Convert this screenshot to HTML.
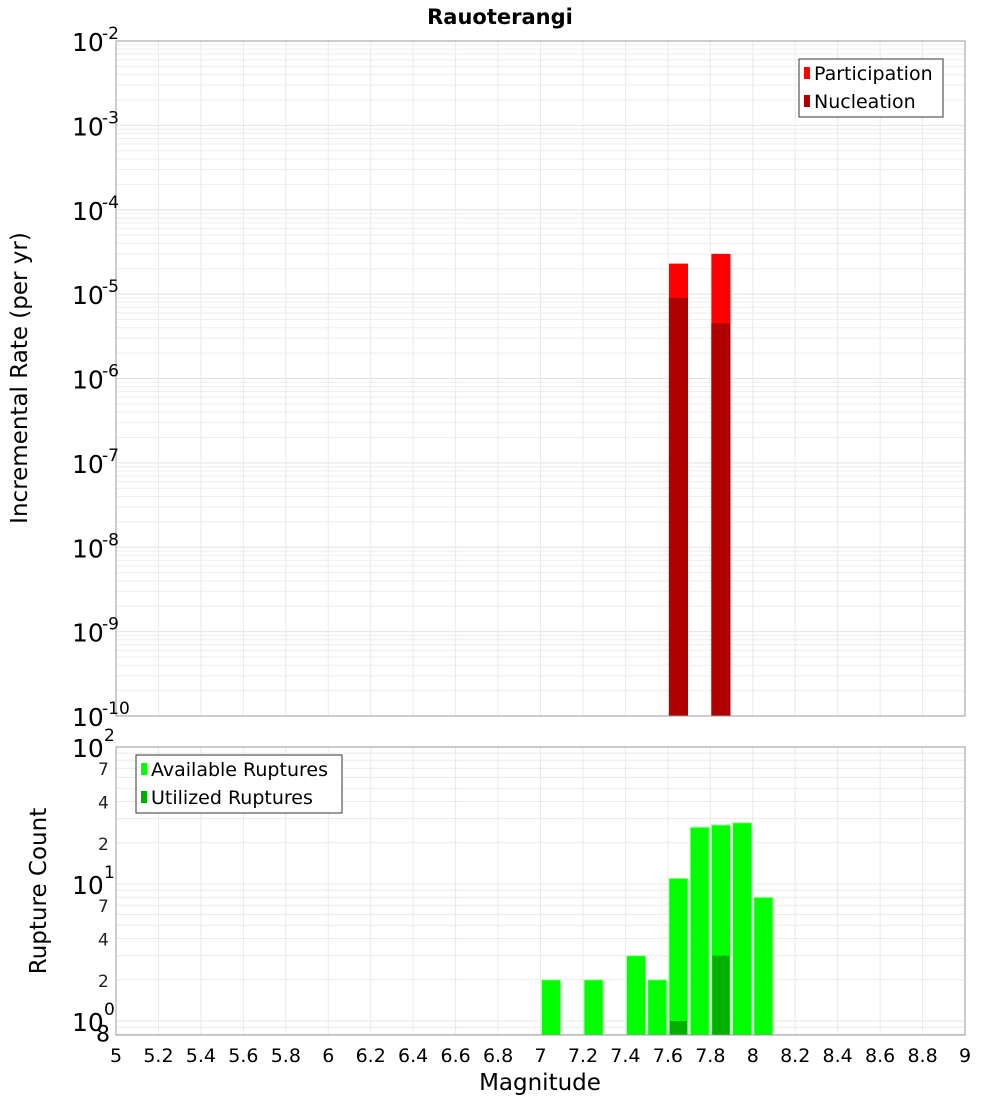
<!DOCTYPE html>
<html><head><meta charset="utf-8"><style>
body{margin:0;background:#fff;font-family:"Liberation Sans","DejaVu Sans",sans-serif}
svg text{font-family:"DejaVu Sans","Liberation Sans",sans-serif}
</style></head><body>
<svg id="c" width="1000" height="1100" xmlns="http://www.w3.org/2000/svg">
<text x="500" y="24" text-anchor="middle" font-size="21" font-weight="bold">Rauoterangi</text>
<g id="topPlot"></g>
<g id="botPlot"></g>
<text transform="translate(27,378) rotate(-90)" text-anchor="middle" font-size="23">Incremental Rate (per yr)</text>
<text transform="translate(46,891) rotate(-90)" text-anchor="middle" font-size="23">Rupture Count</text>
<text x="540" y="1090" text-anchor="middle" font-size="23">Magnitude</text>
</svg>
<script>
const rateMags=[7.65,7.85];
const participation=[2.3e-5,3.0e-5];
const nucleation=[9e-6,4.5e-6];
const countMags=[7.05,7.25,7.45,7.55,7.65,7.75,7.85,7.95,8.05];
const available=[2,2,3,2,11,26,27,28,8];
const utilizedMags=[7.65,7.85];
const utilized=[1,3];
const xTicks=[5,5.2,5.4,5.6,5.8,6,6.2,6.4,6.6,6.8,7,7.2,7.4,7.6,7.8,8,8.2,8.4,8.6,8.8,9];

const NS="http://www.w3.org/2000/svg";
const svg=document.getElementById('c');
function mk(tag,attrs,parent){const e=document.createElementNS(NS,tag);for(const k in attrs)e.setAttribute(k,attrs[k]);(parent||svg).appendChild(e);return e;}
const X0=116,X1=965;
const xs=m=>X0+(m-5)/4*(X1-X0);
const T0=41,T1=716;
const yt=v=>T1-(Math.log10(v)+10)/8*(T1-T0);
const B0=747,B1=1035,BDEC=137,B1e0=1021;
const yb=v=>B1e0-Math.log10(v)*BDEC;
const topG=document.getElementById('topPlot'),botG=document.getElementById('botPlot');

for(let d=-10;d<-2;d++)for(let k=1;k<10;k++){const y=yt(k*Math.pow(10,d));const l=mk('line',{x1:X0,x2:X1,y1:y,y2:y,stroke:k==1?'#e2e2e2':'#eeeeee','stroke-width':1},topG);}
[0.8,0.9,1,2,3,4,5,6,7,8,9,10,20,30,40,50,60,70,80,90].forEach(v=>{const y=yb(v);const l=mk('line',{x1:X0,x2:X1,y1:y,y2:y,stroke:'#eaeaea','stroke-width':1},botG);});
xTicks.forEach(t=>{const x=xs(t);
 let l=mk('line',{x1:x,x2:x,y1:T0,y2:T1,stroke:'#eaeaea'},topG);
 l=mk('line',{x1:x,x2:x,y1:B0,y2:B1,stroke:'#eaeaea'},botG);
 const tx=mk('text',{x:x,y:1062,'text-anchor':'middle','font-size':19});tx.textContent=String(t);
 });
const BW=0.09*(X1-X0)/4;
rateMags.forEach((m,i)=>{
 let r=mk('rect',{x:xs(m)-BW/2,y:yt(participation[i]),width:BW,height:T1-yt(participation[i]),fill:'#ff0000'},topG);
 
 r=mk('rect',{x:xs(m)-BW/2,y:yt(nucleation[i]),width:BW,height:T1-yt(nucleation[i]),fill:'#b00000'},topG);
 });
countMags.forEach((m,i)=>{const y=Math.max(yb(available[i]),B0);
 const r=mk('rect',{x:xs(m)-BW/2,y:y,width:BW,height:B1-y,fill:'#00ff00',stroke:'#aaffaa','stroke-width':1},botG);
 });
utilizedMags.forEach((m,i)=>{const y=yb(utilized[i]);
 const r=mk('rect',{x:xs(m)-BW/2+1,y:y,width:BW-2,height:B1-y,fill:'#00b000'},botG);
 });
let f=mk('rect',{x:X0,y:T0,width:X1-X0,height:T1-T0,fill:'none',stroke:'#999'},topG);
f=mk('rect',{x:X0,y:B0,width:X1-X0,height:B1-B0,fill:'none',stroke:'#999'},botG);
for(let d=-10;d<=-2;d++){const y=yt(Math.pow(10,d));
 const t=mk('text',{x:72,y:y+10,'font-size':25},topG);t.textContent='10';
 
 const e=mk('text',{x:102,y:y-2,'font-size':17},topG);e.textContent=String(d);
 }
[[1,'0'],[10,'1'],[100,'2']].forEach(([v,e])=>{const y=yb(v);
 const t=mk('text',{x:72,y:y+10,'font-size':25},botG);t.textContent='10';
 
 const s=mk('text',{x:104,y:y-6,'font-size':17},botG);s.textContent=e;
 });
[[2,'2'],[4,'4'],[7,'7'],[20,'2'],[40,'4'],[70,'7'],[0.8,'8']].forEach(([v,s])=>{const y=yb(v);
 const t=mk('text',{x:v==0.8?96:98,y:y+7,'font-size':v==0.8?22:17,fill:v==0.8?'#000':'#222'},botG);t.textContent=s;
 });
function legend(x,y,w,items,name,p){const g=mk('g',{},p);
 mk('rect',{x:x,y:y,width:w,height:58,fill:'#fff',stroke:'#333'},g);
 items.forEach(([c,l],i)=>{const yy=y+15+i*28;mk('rect',{x:x+5,y:yy-7,width:6,height:12,fill:c},g);
  const t=mk('text',{x:x+15,y:yy+6,'font-size':19},g);t.textContent=l;
  });}
legend(799,59,144,[['#ff0000','Participation'],['#b00000','Nucleation']],'legend-top',topG);
legend(136,755,206,[['#00ff00','Available Ruptures'],['#00b000','Utilized Ruptures']],'legend-bottom',botG);
</script>
</body></html>
